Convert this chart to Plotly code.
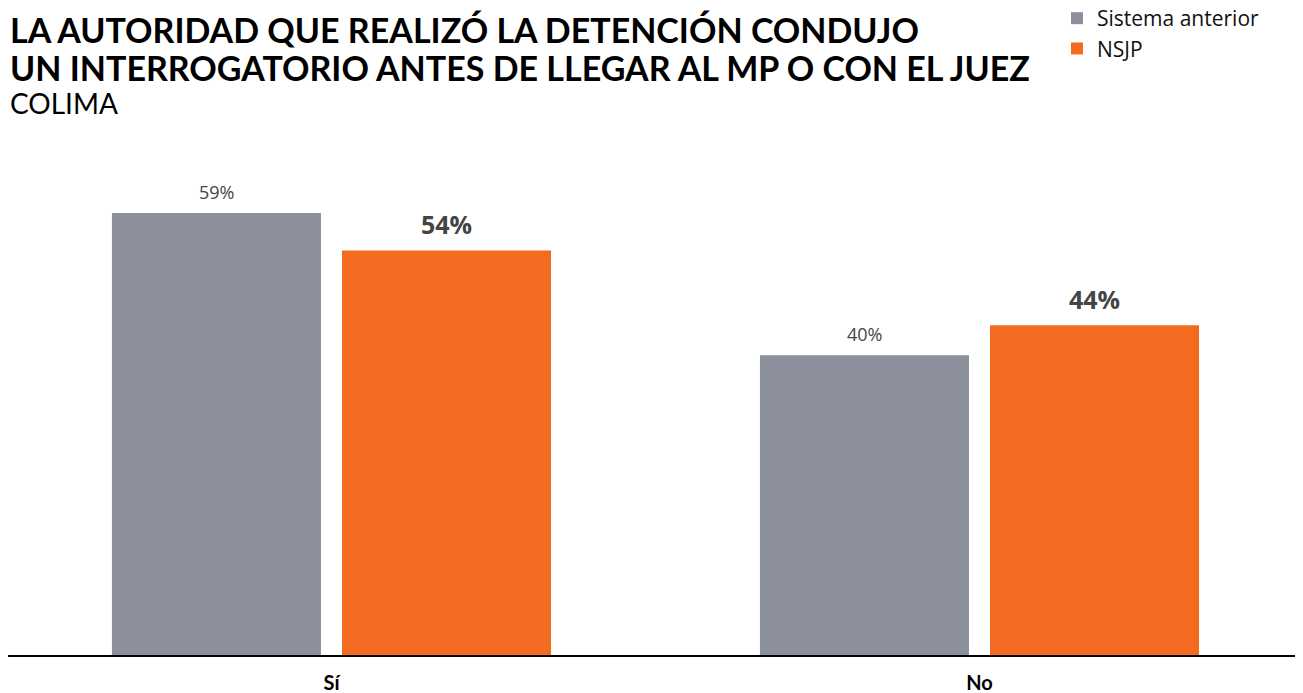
import plotly.graph_objects as go

categories = ["Sí", "No"]
series_names = ["Sistema anterior", "NSJP"]
sistema_anterior = [59, 40]
nsjp = [54, 44]
value_labels_anterior = ["59%", "40%"]
value_labels_nsjp = ["54%", "44%"]

title_lines = ["LA AUTORIDAD QUE REALIZÓ LA DETENCIÓN CONDUJO",
               "UN INTERROGATORIO ANTES DE LLEGAR AL MP O CON EL JUEZ"]
subtitle_text = "COLIMA"

GRAY = "#8c909c"
ORANGE = "#f26b21"
BARGAP = 0.29
BARGROUPGAP = 0.0913

# page body has an 8px margin, so the figure is 8px smaller than the window
W, H = 1295, 685
ML, MR, MT, MB = 0, 3, 160, 38
plot_h = H - MT - MB
plot_w = W - ML - MR


def py(px_from_top):
    """paper y for a pixel offset from the figure top"""
    return (H - MB - px_from_top) / plot_h


xpos = list(range(len(categories)))

fig = go.Figure()
fig.add_trace(go.Bar(x=xpos, y=sistema_anterior, name=series_names[0],
                     marker=dict(color=GRAY, line=dict(width=0))))
fig.add_trace(go.Bar(x=xpos, y=nsjp, name=series_names[1],
                     marker=dict(color=ORANGE, line=dict(width=0))))

slot = (1 - BARGAP) / 2
annotations = []
for i in xpos:
    annotations.append(dict(x=i - slot / 2, y=sistema_anterior[i], xref="x", yref="y",
                            text=value_labels_anterior[i], showarrow=False,
                            yanchor="bottom", yshift=7,
                            font=dict(family="Open Sans", size=18, color="#444444")))
    annotations.append(dict(x=i + slot / 2, y=nsjp[i], xref="x", yref="y",
                            text="<b>" + value_labels_nsjp[i] + "</b>", showarrow=False,
                            yanchor="bottom", yshift=7,
                            font=dict(family="Open Sans", size=25, color="#444444")))

for k, line in enumerate(title_lines):
    annotations.append(dict(x=0, y=py(-1 + 38 * k), xref="paper", yref="paper",
                            xanchor="left", yanchor="top", align="left",
                            text="<b>" + line + "</b>", showarrow=False,
                            font=dict(family="Lato", size=34, color="#000000")))

annotations.append(dict(x=0, y=py(76), xref="paper", yref="paper",
                        xanchor="left", yanchor="top", align="left",
                        text=subtitle_text, showarrow=False,
                        font=dict(family="Lato", size=28, color="#000000")))

fig.update_layout(
    width=W, height=H,
    margin=dict(l=ML, r=MR, t=MT, b=MB, autoexpand=False),
    paper_bgcolor="white", plot_bgcolor="white",
    barmode="group", bargap=BARGAP, bargroupgap=BARGROUPGAP,
    annotations=annotations,
    showlegend=True,
    legend=dict(x=1049 / plot_w, y=py(-10),
                xref="paper", yref="paper", xanchor="left", yanchor="top",
                font=dict(family="Open Sans", size=21, color="#111111"),
                bgcolor="rgba(0,0,0,0)", tracegroupgap=0, itemwidth=30),
    xaxis=dict(tickmode="array", tickvals=xpos, ticktext=categories,
               range=[-0.4992, 1.4946], showgrid=False, zeroline=False,
               showline=True, linecolor="#000000", linewidth=2,
               ticks="", ticklabelstandoff=9,
               tickfont=dict(family="Lato", size=20, color="#000000", weight="bold")),
    yaxis=dict(range=[0, 65], visible=False, showgrid=False, zeroline=False),
)

fig.write_html("out.html")
